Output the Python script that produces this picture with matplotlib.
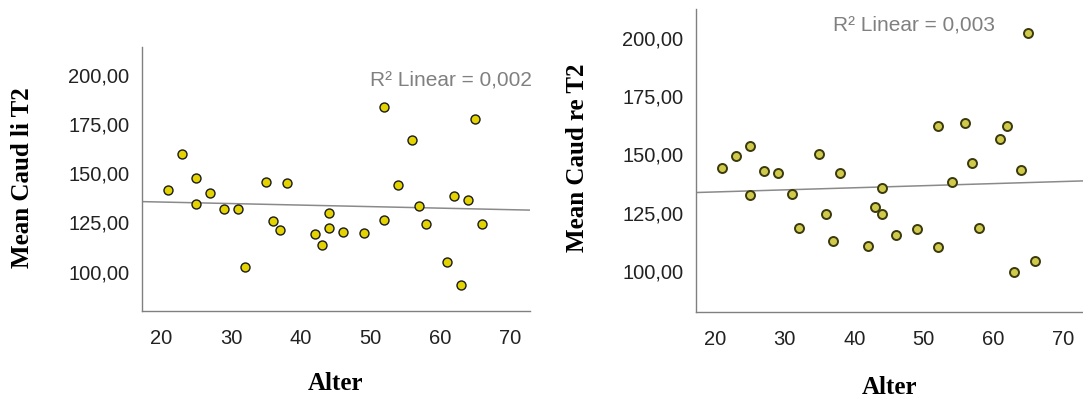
import numpy as np
import matplotlib
matplotlib.use("Agg")
import matplotlib.pyplot as plt
from matplotlib.ticker import FuncFormatter

# =========================================
# DATA
# =========================================
alter = [21, 23, 25, 25, 27, 29, 31, 32, 35, 36, 37, 38, 42, 43, 44,
         44, 46, 49, 52, 52, 54, 56, 57, 58, 61, 62, 63, 64, 65, 66]

caud_li_t2 = [141.4, 159.6, 147.6, 134.1, 140.0, 131.6, 131.7, 102.1, 145.5, 125.8,
              121.0, 145.1, 119.0, 113.3, 129.9, 122.0, 120.0, 119.5, 126.0, 183.7,
              143.9, 166.8, 133.4, 124.0, 104.8, 138.3, 93.2, 136.3, 177.4, 124.1]

caud_re_t2 = [144.0, 149.4, 153.5, 132.5, 142.9, 142.1, 133.2, 118.5, 150.1, 124.3,
              112.8, 142.0, 110.7, 127.5, 124.3, 135.4, 115.4, 117.8, 110.4, 162.1,
              138.2, 163.3, 146.1, 118.3, 156.4, 162.1, 99.4, 143.5, 201.8, 104.4]

y_ticks = [100, 125, 150, 175, 200]
x_ticks = [20, 30, 40, 50, 60, 70]

W, H = 1083, 400


def px_rect(x0, y0, x1, y1):
    # pixel box (top-left origin) -> figure fraction rect
    return [x0 / W, 1 - y1 / H, (x1 - x0) / W, (y1 - y0) / H]


def comma_fmt(v, pos):
    return f"{v:.2f}".replace(".", ",")


def scatter_panel(fig, rect, x, y, ylim, face, edge, edge_lw, r2_text, r2_xy,
                  ylabel, ylabel_xy, xlabel_xy):
    ax = fig.add_axes(rect)
    x = np.array(x)
    y = np.array(y)

    ax.set_xlim(17.2, 72.9)
    ax.set_ylim(*ylim)

    # fit line across the whole x range
    k, d = np.polyfit(x, y, 1)
    xs = np.array(ax.get_xlim())
    ax.plot(xs, k * xs + d, color="#8a8a8a", lw=1.1, zorder=2)

    ax.scatter(x, y, s=42, facecolor=face, edgecolor=edge, linewidth=edge_lw, zorder=3)

    ax.set_xticks(x_ticks)
    ax.set_yticks(y_ticks)
    ax.yaxis.set_major_formatter(FuncFormatter(comma_fmt))
    ax.tick_params(axis="both", length=0, labelsize=14.5, colors="#222222")
    ax.tick_params(axis="y", pad=9)
    ax.tick_params(axis="x", pad=13)
    for lab in ax.get_xticklabels() + ax.get_yticklabels():
        lab.set_family("Liberation Sans")

    for side in ["top", "right"]:
        ax.spines[side].set_visible(False)
    for side in ["left", "bottom"]:
        ax.spines[side].set_color("#808080")
        ax.spines[side].set_linewidth(1.0)

    fig.text(r2_xy[0] / W, 1 - r2_xy[1] / H, r2_text, ha="left", va="center",
             fontsize=15, color="#808080", family="Liberation Sans")
    fig.text(ylabel_xy[0] / W, 1 - ylabel_xy[1] / H, ylabel, rotation=90,
             ha="center", va="center", fontsize=18, fontweight="bold",
             family="Liberation Serif")
    fig.text(xlabel_xy[0] / W, 1 - xlabel_xy[1] / H, "Alter",
             ha="center", va="center", fontsize=18, fontweight="bold",
             family="Liberation Serif")
    return ax


fig = plt.figure(figsize=(W / 100, H / 100), dpi=100)

scatter_panel(fig, px_rect(142, 47, 530, 310.5), alter, caud_li_t2, (80.2, 214.0),
              "#e3d300", "#1a1a1a", 1.0, "R\u00b2 Linear = 0,002", (370, 80),
              "Mean Caud li T2", (23, 178), (335, 384))

scatter_panel(fig, px_rect(695.7, 9, 1083, 312.3), alter, caud_re_t2, (82.3, 212.3),
              "#d0c94a", "#3a3a10", 1.4, "R\u00b2 Linear = 0,003", (833, 25),
              "Mean Caud re T2", (577, 158), (890, 388))

fig.savefig("out.png", dpi=100)
